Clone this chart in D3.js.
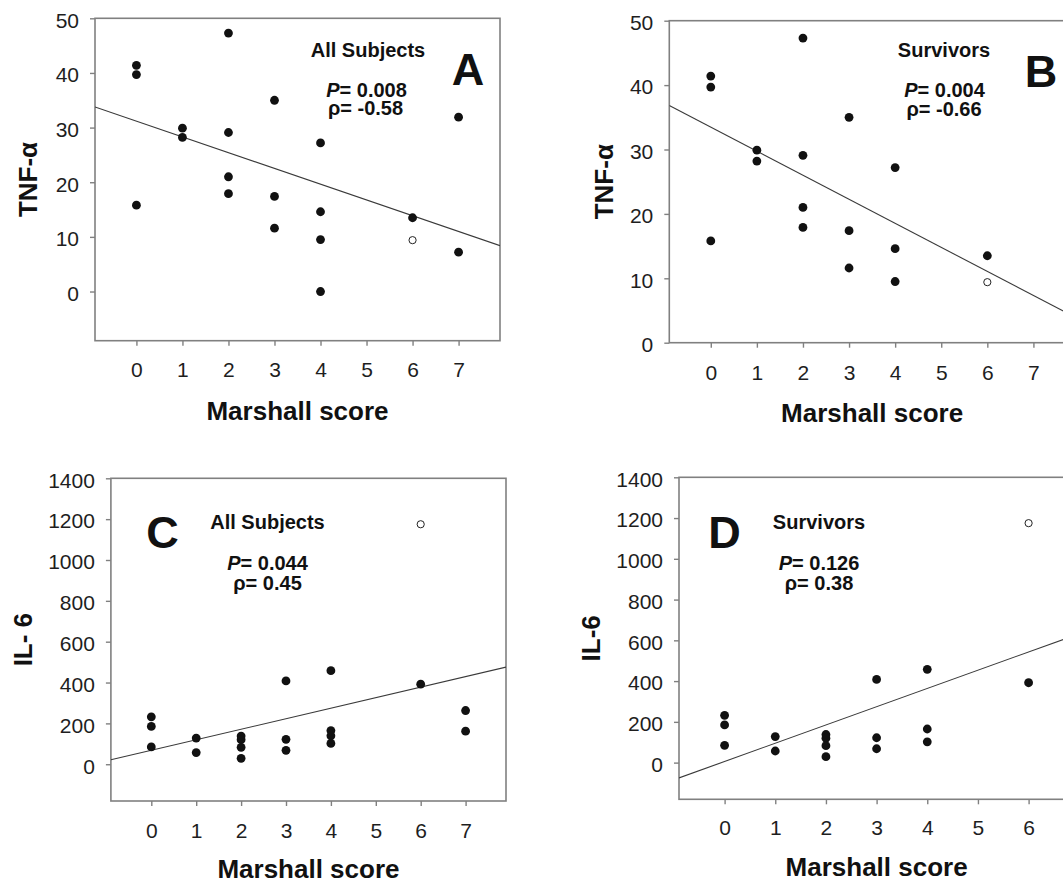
<!DOCTYPE html>
<html>
<head>
<meta charset="utf-8">
<script src="https://cdn.jsdelivr.net/npm/d3@7"></script>
<style>
  html, body { margin: 0; padding: 0; background: #fff; }
  svg { display: block; font-family: "Liberation Sans", Arial, Helvetica, sans-serif; }
</style>
</head>
<body>
<svg id="chart" width="1063" height="883"></svg>
<script>
// ---------------- DATA ----------------
const marshallTicks7 = [0, 1, 2, 3, 4, 5, 6, 7];
const marshallTicks6 = [0, 1, 2, 3, 4, 5, 6];
const tnfTicks = [0, 10, 20, 30, 40, 50];
const il6Ticks = [0, 200, 400, 600, 800, 1000, 1200, 1400];

// Panel A: TNF-alpha, all subjects (filled)
const scoreTnfAll = [0, 0, 0, 1, 1, 2, 2, 2, 2, 3, 3, 3, 4, 4, 4, 4, 6, 7, 7];
const tnfAll      = [41.4, 39.7, 15.8, 29.9, 28.2, 47.3, 29.1, 21.0, 17.9, 35.0, 17.4, 11.6, 27.2, 14.6, 9.5, 0.0, 13.5, 31.9, 7.2];
// Panel B: TNF-alpha, survivors (filled)
const scoreTnfSurv = [0, 0, 0, 1, 1, 2, 2, 2, 2, 3, 3, 3, 4, 4, 4, 6];
const tnfSurv      = [41.4, 39.7, 15.8, 29.9, 28.2, 47.3, 29.1, 21.0, 17.9, 35.0, 17.4, 11.6, 27.2, 14.6, 9.5, 13.5];
// Open-circle subject (TNF)
const scoreTnfOpen = [6];
const tnfOpen      = [9.4];

// Panel C: IL-6, all subjects (filled)
const scoreIl6All = [0, 0, 0, 1, 1, 2, 2, 2, 2, 3, 3, 3, 4, 4, 4, 4, 6, 7, 7];
const il6All      = [232, 185, 85, 128, 57, 138, 120, 83, 29, 408, 122, 68, 458, 165, 139, 102, 392, 263, 162];
// Panel D: IL-6, survivors (filled)
const scoreIl6Surv = [0, 0, 0, 1, 1, 2, 2, 2, 2, 3, 3, 3, 4, 4, 4, 6];
const il6Surv      = [232, 185, 85, 128, 57, 138, 120, 83, 29, 408, 122, 68, 458, 165, 102, 392];
// Open-circle subject (IL-6)
const scoreIl6Open = [6];
const il6Open      = [1175];

const panelLetters = ["A", "B", "C", "D"];
const groupLabels  = ["All Subjects", "Survivors", "All Subjects", "Survivors"];
const pValues      = ["0.008", "0.004", "0.044", "0.126"];
const rhoValues    = ["-0.58", "-0.66", "0.45", "0.38"];
const yTitles      = ["TNF-\u03b1", "TNF-\u03b1", "IL- 6", "IL-6"];
const xTitle       = "Marshall score";

// ---------------- LAYOUT ----------------
const panels = [
  { left: 95,    top: 18.3,  width: 405,   height: 322.4, xDomain: [-0.9, 7.9], yDomain: [-9, 50],    xTicks: marshallTicks7, yTicks: tnfTicks,
    xs: scoreTnfAll, ys: tnfAll, ox: scoreTnfOpen, oy: tnfOpen,
    yTitleX: 37, xTitleY: 419.5, tickLabelY: 376.7,
    letter: [468, 85], group: [368, 56.7], p: [366.5, 96.7], rho: [365.5, 115] },
  { left: 669.3, top: 20.7,  width: 405.6, height: 322,   xDomain: [-0.9, 7.9], yDomain: [0, 50],     xTicks: marshallTicks7, yTicks: tnfTicks,
    xs: scoreTnfSurv, ys: tnfSurv, ox: scoreTnfOpen, oy: tnfOpen,
    yTitleX: 612.5, xTitleY: 421.5, tickLabelY: 380,
    letter: [1041, 87.3], group: [944, 56.7], p: [944.5, 97.3], rho: [944, 116] },
  { left: 110.9, top: 478.3, width: 395.1, height: 322.7, xDomain: [-0.9, 7.9], yDomain: [-180, 1400], xTicks: marshallTicks7, yTicks: il6Ticks,
    xs: scoreIl6All, ys: il6All, ox: scoreIl6Open, oy: il6Open,
    yTitleX: 32, xTitleY: 877.5, tickLabelY: 838,
    letter: [162.5, 548.3], group: [267.5, 529.3], p: [267.5, 570], rho: [267.5, 590] },
  { left: 679,   top: 477.3, width: 395.2, height: 322,   xDomain: [-0.9, 6.9], yDomain: [-180, 1400], xTicks: marshallTicks6, yTicks: il6Ticks,
    xs: scoreIl6Surv, ys: il6Surv, ox: scoreIl6Open, oy: il6Open,
    yTitleX: 599.5, xTitleY: 876, tickLabelY: 835,
    letter: [724.5, 548.3], group: [819, 529.3], p: [819, 570], rho: [819, 590] }
];

const svg = d3.select("#chart");
const frameColor = "#808080";
const textColor = "#1e1e1e";

function ols(xs, ys) {
  const n = xs.length;
  const mx = d3.mean(xs), my = d3.mean(ys);
  let sxy = 0, sxx = 0;
  for (let i = 0; i < n; i++) { sxy += (xs[i] - mx) * (ys[i] - my); sxx += (xs[i] - mx) ** 2; }
  const b = sxy / sxx;
  return { slope: b, intercept: my - b * mx };
}

panels.forEach((cfg, i) => {
  const x = d3.scaleLinear().domain(cfg.xDomain).range([cfg.left, cfg.left + cfg.width]);
  const y = d3.scaleLinear().domain(cfg.yDomain).range([cfg.top + cfg.height, cfg.top]);
  const g = svg.append("g");

  const clipId = "clip" + i;
  svg.append("clipPath").attr("id", clipId).append("rect")
    .attr("x", cfg.left).attr("y", cfg.top).attr("width", cfg.width).attr("height", cfg.height);

  // frame
  g.append("rect")
    .attr("x", cfg.left).attr("y", cfg.top).attr("width", cfg.width).attr("height", cfg.height)
    .attr("fill", "none").attr("stroke", frameColor).attr("stroke-width", 1.6);

  // x axis
  const xAxis = g.append("g").attr("transform", `translate(0,${cfg.top + cfg.height})`)
    .call(d3.axisBottom(x).tickValues(cfg.xTicks).tickFormat(d3.format("d")).tickSize(5).tickSizeOuter(0));
  xAxis.select(".domain").remove();
  xAxis.selectAll(".tick line").attr("stroke", frameColor).attr("stroke-width", 1.4);
  xAxis.selectAll(".tick text")
    .attr("y", cfg.tickLabelY - (cfg.top + cfg.height)).attr("dy", 0)
    .attr("fill", textColor).style("font-size", "21px");

  // y axis
  const yAxis = g.append("g").attr("transform", `translate(${cfg.left},0)`)
    .call(d3.axisLeft(y).tickValues(cfg.yTicks).tickFormat(d3.format("d")).tickSize(5).tickSizeOuter(0));
  yAxis.select(".domain").remove();
  yAxis.selectAll(".tick line").attr("stroke", frameColor).attr("stroke-width", 1.4);
  yAxis.selectAll(".tick text")
    .attr("x", -16).attr("dy", "0.42em")
    .attr("fill", textColor).style("font-size", "21px");

  // regression line (all points, filled + open)
  const fit = ols(cfg.xs.concat(cfg.ox), cfg.ys.concat(cfg.oy));
  const lineData = cfg.xDomain.map(v => [v, fit.intercept + fit.slope * v]);
  g.append("path")
    .attr("clip-path", `url(#${clipId})`)
    .attr("d", d3.line().x(d => x(d[0])).y(d => y(d[1]))(lineData))
    .attr("fill", "none").attr("stroke", "#3a3a3a").attr("stroke-width", 1.1);

  // filled points
  g.selectAll("circle.f").data(cfg.xs.map((v, k) => [v, cfg.ys[k]])).join("circle")
    .attr("class", "f")
    .attr("cx", d => x(d[0])).attr("cy", d => y(d[1])).attr("r", 4.4)
    .attr("fill", "#111");
  // open points
  g.selectAll("circle.o").data(cfg.ox.map((v, k) => [v, cfg.oy[k]])).join("circle")
    .attr("class", "o")
    .attr("cx", d => x(d[0])).attr("cy", d => y(d[1])).attr("r", 3.6)
    .attr("fill", "#fff").attr("stroke", "#222").attr("stroke-width", 1);

  // axis titles
  g.append("text")
    .attr("x", cfg.left + cfg.width / 2).attr("y", cfg.xTitleY)
    .attr("text-anchor", "middle").attr("fill", "#111")
    .style("font-size", "26px").style("font-weight", "bold")
    .text(xTitle);
  g.append("text")
    .attr("transform", `translate(${cfg.yTitleX},${cfg.top + cfg.height / 2}) rotate(-90)`)
    .attr("text-anchor", "middle").attr("fill", "#111")
    .style("font-size", "26px").style("font-weight", "bold")
    .text(yTitles[i]);

  // panel letter
  g.append("text")
    .attr("x", cfg.letter[0]).attr("y", cfg.letter[1])
    .attr("text-anchor", "middle").attr("fill", "#111")
    .style("font-size", "45px").style("font-weight", "bold")
    .text(panelLetters[i]);

  // group label
  g.append("text")
    .attr("x", cfg.group[0]).attr("y", cfg.group[1])
    .attr("text-anchor", "middle").attr("fill", "#111")
    .style("font-size", "20px").style("font-weight", "bold")
    .text(groupLabels[i]);

  // P value (italic P)
  const pt = g.append("text")
    .attr("x", cfg.p[0]).attr("y", cfg.p[1])
    .attr("text-anchor", "middle").attr("fill", "#111")
    .style("font-size", "20px").style("font-weight", "bold");
  pt.append("tspan").style("font-style", "italic").text("P");
  pt.append("tspan").text("= " + pValues[i]);

  // rho
  g.append("text")
    .attr("x", cfg.rho[0]).attr("y", cfg.rho[1])
    .attr("text-anchor", "middle").attr("fill", "#111")
    .style("font-size", "20px").style("font-weight", "bold")
    .text("\u03c1= " + rhoValues[i]);
});
</script>
</body>
</html>
